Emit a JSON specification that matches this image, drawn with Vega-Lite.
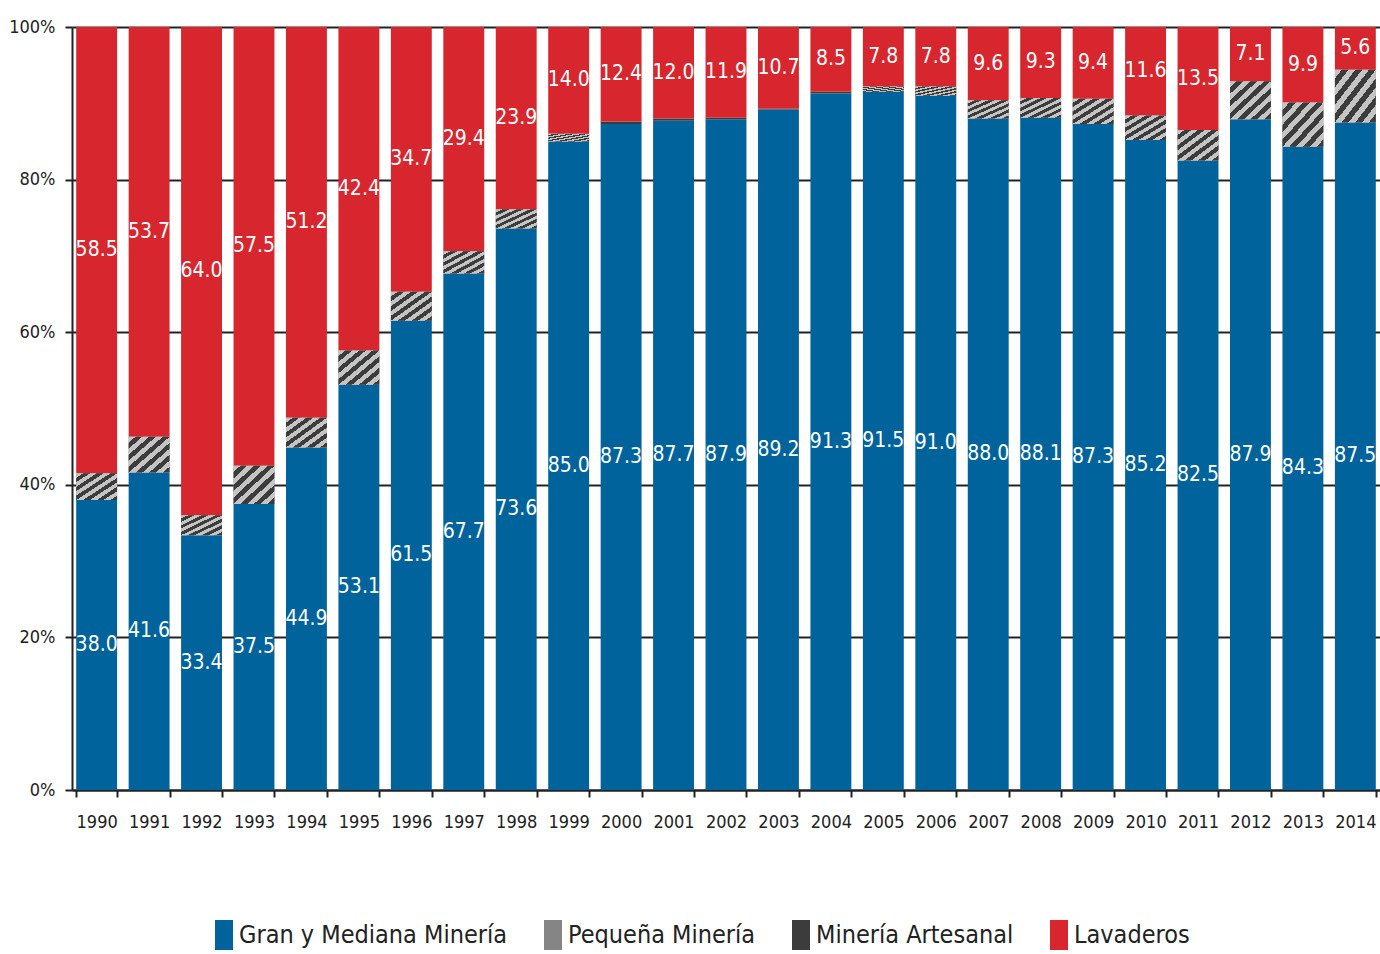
{
  "$schema": "https://vega.github.io/schema/vega-lite/v6.json",
  "width": 1308,
  "height": 763,
  "autosize": {"type": "none"},
  "padding": {"left": 72, "top": 27, "right": 0, "bottom": 164},
  "background": "white",
  "config": {
    "view": {"stroke": null},
    "font": "Liberation Sans Narrow, DejaVu Sans Condensed, sans-serif",
    "axis": {"labelFont": "Liberation Sans Narrow, DejaVu Sans Condensed, sans-serif", "labelColor": "#222", "labelFontSize": 18, "title": null}
  },
  "data": {
    "values": [
      {"anio": "1990", "cat": "Gran y Mediana Minería", "orden": 1, "valor": 38.0},
      {"anio": "1990", "cat": "Pequeña Minería", "orden": 2, "valor": 3.5},
      {"anio": "1990", "cat": "Minería Artesanal", "orden": 3, "valor": 0},
      {"anio": "1990", "cat": "Lavaderos", "orden": 4, "valor": 58.5},
      {"anio": "1991", "cat": "Gran y Mediana Minería", "orden": 1, "valor": 41.6},
      {"anio": "1991", "cat": "Pequeña Minería", "orden": 2, "valor": 4.7},
      {"anio": "1991", "cat": "Minería Artesanal", "orden": 3, "valor": 0},
      {"anio": "1991", "cat": "Lavaderos", "orden": 4, "valor": 53.7},
      {"anio": "1992", "cat": "Gran y Mediana Minería", "orden": 1, "valor": 33.4},
      {"anio": "1992", "cat": "Pequeña Minería", "orden": 2, "valor": 2.6},
      {"anio": "1992", "cat": "Minería Artesanal", "orden": 3, "valor": 0},
      {"anio": "1992", "cat": "Lavaderos", "orden": 4, "valor": 64.0},
      {"anio": "1993", "cat": "Gran y Mediana Minería", "orden": 1, "valor": 37.5},
      {"anio": "1993", "cat": "Pequeña Minería", "orden": 2, "valor": 5.0},
      {"anio": "1993", "cat": "Minería Artesanal", "orden": 3, "valor": 0},
      {"anio": "1993", "cat": "Lavaderos", "orden": 4, "valor": 57.5},
      {"anio": "1994", "cat": "Gran y Mediana Minería", "orden": 1, "valor": 44.9},
      {"anio": "1994", "cat": "Pequeña Minería", "orden": 2, "valor": 3.9},
      {"anio": "1994", "cat": "Minería Artesanal", "orden": 3, "valor": 0},
      {"anio": "1994", "cat": "Lavaderos", "orden": 4, "valor": 51.2},
      {"anio": "1995", "cat": "Gran y Mediana Minería", "orden": 1, "valor": 53.1},
      {"anio": "1995", "cat": "Pequeña Minería", "orden": 2, "valor": 4.5},
      {"anio": "1995", "cat": "Minería Artesanal", "orden": 3, "valor": 0},
      {"anio": "1995", "cat": "Lavaderos", "orden": 4, "valor": 42.4},
      {"anio": "1996", "cat": "Gran y Mediana Minería", "orden": 1, "valor": 61.5},
      {"anio": "1996", "cat": "Pequeña Minería", "orden": 2, "valor": 3.8},
      {"anio": "1996", "cat": "Minería Artesanal", "orden": 3, "valor": 0},
      {"anio": "1996", "cat": "Lavaderos", "orden": 4, "valor": 34.7},
      {"anio": "1997", "cat": "Gran y Mediana Minería", "orden": 1, "valor": 67.7},
      {"anio": "1997", "cat": "Pequeña Minería", "orden": 2, "valor": 2.9},
      {"anio": "1997", "cat": "Minería Artesanal", "orden": 3, "valor": 0},
      {"anio": "1997", "cat": "Lavaderos", "orden": 4, "valor": 29.4},
      {"anio": "1998", "cat": "Gran y Mediana Minería", "orden": 1, "valor": 73.6},
      {"anio": "1998", "cat": "Pequeña Minería", "orden": 2, "valor": 2.5},
      {"anio": "1998", "cat": "Minería Artesanal", "orden": 3, "valor": 0},
      {"anio": "1998", "cat": "Lavaderos", "orden": 4, "valor": 23.9},
      {"anio": "1999", "cat": "Gran y Mediana Minería", "orden": 1, "valor": 85.0},
      {"anio": "1999", "cat": "Pequeña Minería", "orden": 2, "valor": 1.0},
      {"anio": "1999", "cat": "Minería Artesanal", "orden": 3, "valor": 0},
      {"anio": "1999", "cat": "Lavaderos", "orden": 4, "valor": 14.0},
      {"anio": "2000", "cat": "Gran y Mediana Minería", "orden": 1, "valor": 87.3},
      {"anio": "2000", "cat": "Pequeña Minería", "orden": 2, "valor": 0},
      {"anio": "2000", "cat": "Minería Artesanal", "orden": 3, "valor": 0.3},
      {"anio": "2000", "cat": "Lavaderos", "orden": 4, "valor": 12.4},
      {"anio": "2001", "cat": "Gran y Mediana Minería", "orden": 1, "valor": 87.7},
      {"anio": "2001", "cat": "Pequeña Minería", "orden": 2, "valor": 0},
      {"anio": "2001", "cat": "Minería Artesanal", "orden": 3, "valor": 0.3},
      {"anio": "2001", "cat": "Lavaderos", "orden": 4, "valor": 12.0},
      {"anio": "2002", "cat": "Gran y Mediana Minería", "orden": 1, "valor": 87.9},
      {"anio": "2002", "cat": "Pequeña Minería", "orden": 2, "valor": 0},
      {"anio": "2002", "cat": "Minería Artesanal", "orden": 3, "valor": 0.2},
      {"anio": "2002", "cat": "Lavaderos", "orden": 4, "valor": 11.9},
      {"anio": "2003", "cat": "Gran y Mediana Minería", "orden": 1, "valor": 89.2},
      {"anio": "2003", "cat": "Pequeña Minería", "orden": 2, "valor": 0},
      {"anio": "2003", "cat": "Minería Artesanal", "orden": 3, "valor": 0.1},
      {"anio": "2003", "cat": "Lavaderos", "orden": 4, "valor": 10.7},
      {"anio": "2004", "cat": "Gran y Mediana Minería", "orden": 1, "valor": 91.3},
      {"anio": "2004", "cat": "Pequeña Minería", "orden": 2, "valor": 0},
      {"anio": "2004", "cat": "Minería Artesanal", "orden": 3, "valor": 0.2},
      {"anio": "2004", "cat": "Lavaderos", "orden": 4, "valor": 8.5},
      {"anio": "2005", "cat": "Gran y Mediana Minería", "orden": 1, "valor": 91.5},
      {"anio": "2005", "cat": "Pequeña Minería", "orden": 2, "valor": 0.7},
      {"anio": "2005", "cat": "Minería Artesanal", "orden": 3, "valor": 0},
      {"anio": "2005", "cat": "Lavaderos", "orden": 4, "valor": 7.8},
      {"anio": "2006", "cat": "Gran y Mediana Minería", "orden": 1, "valor": 91.0},
      {"anio": "2006", "cat": "Pequeña Minería", "orden": 2, "valor": 1.2},
      {"anio": "2006", "cat": "Minería Artesanal", "orden": 3, "valor": 0},
      {"anio": "2006", "cat": "Lavaderos", "orden": 4, "valor": 7.8},
      {"anio": "2007", "cat": "Gran y Mediana Minería", "orden": 1, "valor": 88.0},
      {"anio": "2007", "cat": "Pequeña Minería", "orden": 2, "valor": 2.4},
      {"anio": "2007", "cat": "Minería Artesanal", "orden": 3, "valor": 0},
      {"anio": "2007", "cat": "Lavaderos", "orden": 4, "valor": 9.6},
      {"anio": "2008", "cat": "Gran y Mediana Minería", "orden": 1, "valor": 88.1},
      {"anio": "2008", "cat": "Pequeña Minería", "orden": 2, "valor": 2.6},
      {"anio": "2008", "cat": "Minería Artesanal", "orden": 3, "valor": 0},
      {"anio": "2008", "cat": "Lavaderos", "orden": 4, "valor": 9.3},
      {"anio": "2009", "cat": "Gran y Mediana Minería", "orden": 1, "valor": 87.3},
      {"anio": "2009", "cat": "Pequeña Minería", "orden": 2, "valor": 3.3},
      {"anio": "2009", "cat": "Minería Artesanal", "orden": 3, "valor": 0},
      {"anio": "2009", "cat": "Lavaderos", "orden": 4, "valor": 9.4},
      {"anio": "2010", "cat": "Gran y Mediana Minería", "orden": 1, "valor": 85.2},
      {"anio": "2010", "cat": "Pequeña Minería", "orden": 2, "valor": 3.2},
      {"anio": "2010", "cat": "Minería Artesanal", "orden": 3, "valor": 0},
      {"anio": "2010", "cat": "Lavaderos", "orden": 4, "valor": 11.6},
      {"anio": "2011", "cat": "Gran y Mediana Minería", "orden": 1, "valor": 82.5},
      {"anio": "2011", "cat": "Pequeña Minería", "orden": 2, "valor": 4.0},
      {"anio": "2011", "cat": "Minería Artesanal", "orden": 3, "valor": 0},
      {"anio": "2011", "cat": "Lavaderos", "orden": 4, "valor": 13.5},
      {"anio": "2012", "cat": "Gran y Mediana Minería", "orden": 1, "valor": 87.9},
      {"anio": "2012", "cat": "Pequeña Minería", "orden": 2, "valor": 5.0},
      {"anio": "2012", "cat": "Minería Artesanal", "orden": 3, "valor": 0},
      {"anio": "2012", "cat": "Lavaderos", "orden": 4, "valor": 7.1},
      {"anio": "2013", "cat": "Gran y Mediana Minería", "orden": 1, "valor": 84.3},
      {"anio": "2013", "cat": "Pequeña Minería", "orden": 2, "valor": 5.8},
      {"anio": "2013", "cat": "Minería Artesanal", "orden": 3, "valor": 0},
      {"anio": "2013", "cat": "Lavaderos", "orden": 4, "valor": 9.9},
      {"anio": "2014", "cat": "Gran y Mediana Minería", "orden": 1, "valor": 87.5},
      {"anio": "2014", "cat": "Pequeña Minería", "orden": 2, "valor": 6.9},
      {"anio": "2014", "cat": "Minería Artesanal", "orden": 3, "valor": 0},
      {"anio": "2014", "cat": "Lavaderos", "orden": 4, "valor": 5.6}
    ]
  },
  "encoding": {
    "x": {
      "field": "anio",
      "type": "ordinal",
      "scale": {"paddingInner": 0.22, "paddingOuter": 0.08},
      "axis": {
        "labelAngle": 0,
        "labelPadding": 16,
        "tickBand": "extent",
        "tickSize": 7,
        "tickWidth": 2,
        "tickColor": "#222",
        "domainColor": "#222",
        "domainWidth": 2,
        "grid": false
      }
    },
    "y": {
      "field": "valor",
      "type": "quantitative",
      "stack": "zero",
      "scale": {"domain": [0, 100], "nice": false},
      "axis": {
        "values": [0, 20, 40, 60, 80, 100],
        "labelExpr": "datum.value + '%'",
        "labelPadding": 10,
        "tickSize": 7,
        "tickWidth": 2,
        "tickColor": "#222",
        "domainColor": "#222",
        "domainWidth": 2,
        "grid": true,
        "gridColor": "#222",
        "gridWidth": 2,
        "gridOpacity": 1
      }
    },
    "order": {"field": "orden", "type": "quantitative"}
  },
  "layer": [
    {
      "mark": {"type": "bar"},
      "encoding": {
        "color": {
          "field": "cat",
          "type": "nominal",
          "sort": ["Gran y Mediana Minería", "Pequeña Minería", "Minería Artesanal", "Lavaderos"],
          "scale": {
            "domain": ["Gran y Mediana Minería", "Pequeña Minería", "Minería Artesanal", "Lavaderos"],
            "range": ["#00639b", "#858585", "#3c3c3c", "#d7262e"]
          },
          "legend": {
            "title": null,
            "orient": "none",
            "direction": "horizontal",
            "legendX": 137,
            "legendY": 893,
            "symbolType": "M-0.6,-1L0.6,-1L0.6,1L-0.6,1Z",
            "symbolSize": 900,
            "symbolStrokeWidth": 0,
            "symbolOpacity": 1,
            "labelFont": "Liberation Sans Narrow, DejaVu Sans Condensed, sans-serif",
            "labelFontSize": 25,
            "labelColor": "#222",
            "labelOffset": 0,
            "columnPadding": 30,
            "labelLimit": 400
          }
        }
      }
    },
    {
      "mark": {
        "type": "bar",
        "color": {
          "gradient": "linear",
          "x1": 0, "y1": 0, "x2": 1, "y2": 1,
          "stops": [
            {"offset": 0, "color": "#c4c4c4"},
            {"offset": 0.0833, "color": "#c4c4c4"},
            {"offset": 0.0833, "color": "#3c3c3c"},
            {"offset": 0.1667, "color": "#3c3c3c"},
            {"offset": 0.1667, "color": "#c4c4c4"},
            {"offset": 0.25, "color": "#c4c4c4"},
            {"offset": 0.25, "color": "#3c3c3c"},
            {"offset": 0.3333, "color": "#3c3c3c"},
            {"offset": 0.3333, "color": "#c4c4c4"},
            {"offset": 0.4167, "color": "#c4c4c4"},
            {"offset": 0.4167, "color": "#3c3c3c"},
            {"offset": 0.5, "color": "#3c3c3c"},
            {"offset": 0.5, "color": "#c4c4c4"},
            {"offset": 0.5833, "color": "#c4c4c4"},
            {"offset": 0.5833, "color": "#3c3c3c"},
            {"offset": 0.6667, "color": "#3c3c3c"},
            {"offset": 0.6667, "color": "#c4c4c4"},
            {"offset": 0.75, "color": "#c4c4c4"},
            {"offset": 0.75, "color": "#3c3c3c"},
            {"offset": 0.8333, "color": "#3c3c3c"},
            {"offset": 0.8333, "color": "#c4c4c4"},
            {"offset": 0.9167, "color": "#c4c4c4"},
            {"offset": 0.9167, "color": "#3c3c3c"},
            {"offset": 1, "color": "#3c3c3c"}
          ]
        }
      },
      "encoding": {
        "detail": {"field": "cat", "type": "nominal"},
        "opacity": {"condition": {"test": "datum.orden == 2", "value": 1}, "value": 0}
      }
    },
    {
      "mark": {
        "type": "text",
        "color": "white",
        "font": "Liberation Sans Narrow, DejaVu Sans Condensed, sans-serif",
        "fontSize": 21,
        "baseline": "middle",
        "align": "center"
      },
      "encoding": {
        "y": {"field": "valor", "type": "quantitative", "stack": "zero", "bandPosition": 0.5},
        "detail": {"field": "cat", "type": "nominal"},
        "text": {
          "field": "valor",
          "type": "quantitative",
          "format": ".1f",
          "condition": {"test": "datum.orden == 2 || datum.orden == 3", "value": ""}
        }
      }
    }
  ]
}
